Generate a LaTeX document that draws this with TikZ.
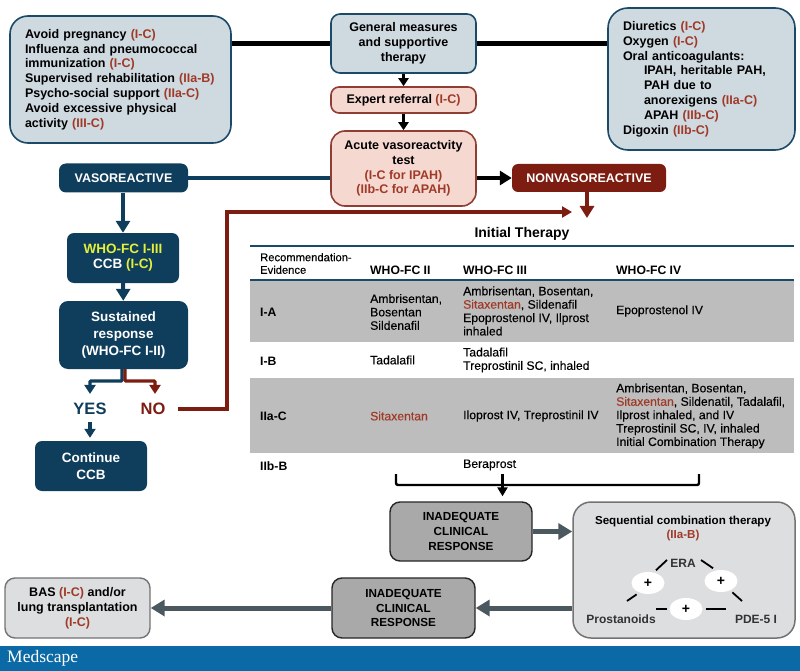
\documentclass[tikz,border=0pt]{standalone}
\usepackage{fontspec}
\setmainfont{Liberation Sans}
\newfontfamily\semifont[FakeBold=0.25]{Liberation Sans}
\newfontfamily\logofont{Liberation Serif}
\usetikzlibrary{arrows.meta,shapes.geometric}
\definecolor{navy}{HTML}{0F3D5C}
\definecolor{darkred}{HTML}{7D1C10}
\definecolor{evred}{HTML}{A03A28}
\definecolor{mistblue}{HTML}{CFD9E0}
\definecolor{blush}{HTML}{F5D8CF}
\definecolor{rowgrey}{HTML}{BDBDBD}
\definecolor{midgrey}{HTML}{A9A9A9}
\definecolor{palegrey}{HTML}{DCDEE0}
\definecolor{slate}{HTML}{4C5860}
\definecolor{bandblue}{HTML}{0B6AA5}
\definecolor{ruleblue}{HTML}{1B4A68}
\definecolor{whoyellow}{HTML}{E4F03A}
\newcommand{\ev}[1]{\textcolor{evred}{#1}}
\newcommand{\boldtext}[1]{\fontsize{#1}{14.8}\selectfont\bfseries}

\begin{document}
\begin{tikzpicture}[x=1pt,y=-1pt]
    \tikzstyle{every node}=[inner sep=0pt, font=\boldtext{12.5}]
    \tikzstyle{mistbox}=[draw=ruleblue, line width=1.6pt, fill=mistblue]
    \tikzstyle{blushbox}=[draw=darkred!85, line width=1.6pt, fill=blush, rounded corners=8pt, minimum width=145pt, align=center]
    \tikzstyle{navybox}=[fill=navy, text=white, rounded corners=7pt, align=center]
    \tikzstyle{greybox}=[draw=black!85, line width=1.4pt, fill=midgrey, rounded corners=10pt, align=center, font=\boldtext{11.7}]
    \tikzstyle{cell}=[anchor=west, align=left, font=\semifont\fontsize{12.2}{13.4}\selectfont]
    \tikzstyle{headcell}=[anchor=west, align=left, font=\bfseries\fontsize{12.2}{13.4}\selectfont]
    \tikzstyle{pluspot}=[ellipse, fill=white, minimum width=33pt, minimum height=22pt, outer sep=3pt, font=\boldtext{14}]
    \tikzstyle{bigarrow}=[line width=4pt, -{Triangle[width=14pt,length=12pt]}]
    \tikzstyle{smallarrow}=[line width=3.2pt, -{Triangle[width=11pt,length=9pt]}]
    \tikzstyle{greyarrow}=[line width=5pt, draw=slate, -{Triangle[width=16pt,length=14pt]}]
    \tikzstyle{bar}=[line width=1.8pt, black]

    \useasboundingbox (0,0) rectangle (800,671);

    % top row
    \node[mistbox, rounded corners=18pt, minimum width=221pt, minimum height=127pt, text width=191pt, align=left] (general left) at (120.5,79.5)
        {Avoid pregnancy \ev{(I-C)}\\Influenza and pneumococcal\\immunization \ev{(I-C)}\\Supervised rehabilitation \ev{(IIa-B)}\\Psycho-social support \ev{(IIa-C)}\\Avoid excessive physical\\activity \ev{(III-C)}};
    \node[mistbox, rounded corners=9pt, minimum width=145pt, minimum height=59pt, align=center] (general) at (403.5,43.5)
        {General measures\\and supportive\\therapy};
    \node[mistbox, rounded corners=20pt, minimum width=187pt, minimum height=142pt, text width=157pt, align=left] (general right) at (701.5,79)
        {Diuretics \ev{(I-C)}\\Oxygen \ev{(I-C)}\\Oral anticoagulants:\\\hspace*{21pt}IPAH, heritable PAH,\\\hspace*{21pt}PAH due to\\\hspace*{21pt}anorexigens \ev{(IIa-C)}\\\hspace*{21pt}APAH \ev{(IIb-C)}\\Digoxin \ev{(IIb-C)}};
    \node[blushbox, minimum height=26pt] (expert) at (403.5,100) {Expert referral \ev{(I-C)}};
    \node[blushbox, rounded corners=14pt, minimum height=75pt] (acute) at (403.5,168.5)
        {Acute vasoreactvity\\test\\\ev{(I-C for IPAH)}\\\ev{(IIb-C for APAH)}};

    % left column
    \node[navybox, minimum width=129pt, minimum height=29pt] (vaso) at (123.5,178) {VASOREACTIVE};
    \node[fill=darkred, text=white, rounded corners=6pt, minimum width=154pt, minimum height=28pt] (nonvaso) at (589,178) {NONVASOREACTIVE};
    \node[navybox, minimum width=112pt, minimum height=50pt, font=\boldtext{13.5}] (ccb) at (123,258)
        {\textcolor{whoyellow}{WHO-FC I-III}\\CCB \textcolor{whoyellow}{(I-C)}};
    \node[navybox, minimum width=129pt, minimum height=68pt, rounded corners=9pt, font=\fontsize{13.5}{16.8}\selectfont\bfseries] (sustained) at (123.5,335)
        {Sustained\\response\\(WHO-FC I-II)};
    \node[text=navy, font=\boldtext{16.5}] (yes) at (90,409) {YES};
    \node[text=darkred, font=\boldtext{16.5}] (no) at (153,409) {NO};
    \node[navybox, minimum width=112pt, minimum height=50pt, font=\fontsize{13.5}{16.8}\selectfont\bfseries] (continue) at (91,466) {Continue\\CCB};

    \coordinate (yes turn) at (90,381);
    \coordinate (no turn) at (155,381);
    \coordinate (no top) at (227,212);
    \coordinate (table in) at (572,212);
    \coordinate (table top) at (587,218);

    \draw[line width=5pt] (general left.east |- general) -- (general.west);
    \draw[line width=5pt] (general.east) -- (general.east -| general right.west);
    \draw[-{Triangle[width=10pt,length=8pt]}, line width=3.4pt] (general) -- (expert);
    \draw[-{Triangle[width=10pt,length=8pt]}, line width=3.4pt] (expert) -- (acute);
    \draw[line width=4pt, navy] (vaso) -- (acute.west |- vaso);
    \draw[bigarrow] (acute.east |- nonvaso) -- (nonvaso);
    \draw[bigarrow, darkred] (nonvaso.south -| table top) -- (table top);
    \draw[bigarrow, navy] (vaso.south -| ccb) -- (ccb);
    \draw[bigarrow, navy] (ccb) -- (sustained);
    \draw[smallarrow, navy, rounded corners=1pt] ([xshift=-1.5pt]sustained.south) |- (yes turn) -- ([yshift=9pt]yes.north);
    \draw[smallarrow, darkred, rounded corners=1pt] ([xshift=1.5pt]sustained.south) |- (no turn) -- ([yshift=9pt]no.north -| no turn);
    \draw[smallarrow, navy] ([yshift=-7pt]yes.south) -- ([yshift=3pt]continue.north -| yes);
    \draw[line width=3.2pt, darkred, -{Triangle[width=11pt,length=10pt]}] ([xshift=12pt]no.east) -| (no top) -- (table in);

    % table
    \node[font=\boldtext{14}] (title) at (522,234) {Initial Therapy};
    \fill[rowgrey] (250,280) rectangle (794,342);
    \fill[rowgrey] (250,378) rectangle (794,453);
    \draw[line width=1.6pt, ruleblue] (250,246) -- (794,246);
    \draw[line width=1.6pt, ruleblue] (250,280) -- (794,280);

    \node[cell, font=\semifont\fontsize{11.2}{12.6}\selectfont] (rec) at (260,263.5) {Recommendation-\\Evidence};
    \node[headcell] (who2) at (370,270) {WHO-FC II};
    \node[headcell] (who3) at (463,270) {WHO-FC III};
    \node[headcell] (who4) at (616,270) {WHO-FC IV};

    \node[headcell] (ia) at (260,312) {I-A};
    \node[cell] (ia2) at (370,312) {Ambrisentan,\\Bosentan\\Sildenafil};
    \node[cell] (ia3) at (463,311) {Ambrisentan, Bosentan,\\\ev{Sitaxentan}, Sildenafil\\Epoprostenol IV, Ilprost\\inhaled};
    \node[cell] (ia4) at (616,311) {Epoprostenol IV};

    \node[headcell] (ib) at (260,361) {I-B};
    \node[cell] (ib2) at (370,360) {Tadalafil};
    \node[cell] (ib3) at (463,360) {Tadalafil\\Treprostinil SC, inhaled};

    \node[headcell] (iia) at (260,416) {IIa-C};
    \node[cell] (iia2) at (370,416) {\ev{Sitaxentan}};
    \node[cell] (iia3) at (463,416) {Iloprost IV, Treprostinil IV};
    \node[cell] (iia4) at (616,416) {Ambrisentan, Bosentan,\\\ev{Sitaxentan}, Sildenatil, Tadalafil,\\Ilprost inhaled, and IV\\Treprostinil SC, IV, inhaled\\Initial Combination Therapy};

    \node[headcell] (iib) at (260,466) {IIb-B};
    \node[cell] (iib3) at (463,465) {Beraprost};

    % bracket under the table
    \coordinate (bracket left) at (396,474);
    \coordinate (bracket right) at (699,474);
    \coordinate (bracket mid) at (502.5,474);
    \coordinate (bracket low) at (502.5,485);
    \draw[line width=2.4pt, rounded corners=2pt] (bracket left) |- (bracket low) -| (bracket right);
    \draw[line width=2.4pt] (bracket mid) -- (bracket low);

    % lower flow
    \node[greybox, minimum width=142pt, minimum height=59pt] (inad one) at (461,531.5) {INADEQUATE\\CLINICAL\\RESPONSE};
    \node[draw=black!55, line width=1.5pt, fill=palegrey, rounded corners=18pt, minimum width=222pt, minimum height=136pt] (seq) at (684,570) {};
    \node[greybox, minimum width=143pt, minimum height=60pt] (inad two) at (403.5,608) {INADEQUATE\\CLINICAL\\RESPONSE};
    \node[draw=black!55, line width=1.4pt, fill=palegrey, rounded corners=10pt, minimum width=145pt, minimum height=60pt, align=center] (bas) at (77.5,608)
        {BAS \ev{(I-C)} and/or\\lung transplantation\\\ev{(I-C)}};

    \draw[line width=2.4pt, -{Triangle[width=10pt,length=9pt]}] (bracket low) -- ([yshift=5pt]inad one.north -| bracket low);
    \draw[greyarrow] (inad one) -- (inad one -| seq.west);
    \draw[greyarrow] (inad two -| seq.west) -- (inad two);
    \draw[greyarrow] (inad two) -- (bas);

    \node[font=\boldtext{11.6}, align=center] (seq title) at (683,528.5) {Sequential combination therapy\\\ev{(IIa-B)}};
    \node[font=\boldtext{12}, text=black!80] (era) at (683,563) {ERA};
    \node[font=\boldtext{12}, text=black!80] (prost) at (621,619) {Prostanoids};
    \node[font=\boldtext{12}, text=black!80] (pde) at (756,619) {PDE-5 I};
    \node[pluspot] (plus left) at (648,583) {+};
    \node[pluspot] (plus right) at (721,581) {+};
    \node[pluspot] (plus low) at (686,609) {+};

    \coordinate (era left) at (667,560);
    \coordinate (era right) at (701,560);
    \coordinate (prost up) at (627,601);
    \coordinate (pde up) at (742,601);
    \coordinate (prost side) at (656,609);
    \coordinate (pde side) at (726,609);
    \draw[bar] (plus left.58) -- (era left);
    \draw[bar] (plus left.225) -- (prost up);
    \draw[bar] (plus right.122) -- (era right);
    \draw[bar] (plus right.315) -- (pde up);
    \draw[bar] (plus low.west) -- (prost side);
    \draw[bar] (plus low.east) -- (pde side);

    % footer
    \fill[bandblue] (0,646) rectangle (800,671);
    \node[text=white, anchor=west, font=\logofont\fontsize{17.5}{20}\selectfont] (medscape) at (7,658) {Medscape};
\end{tikzpicture}
\end{document}
